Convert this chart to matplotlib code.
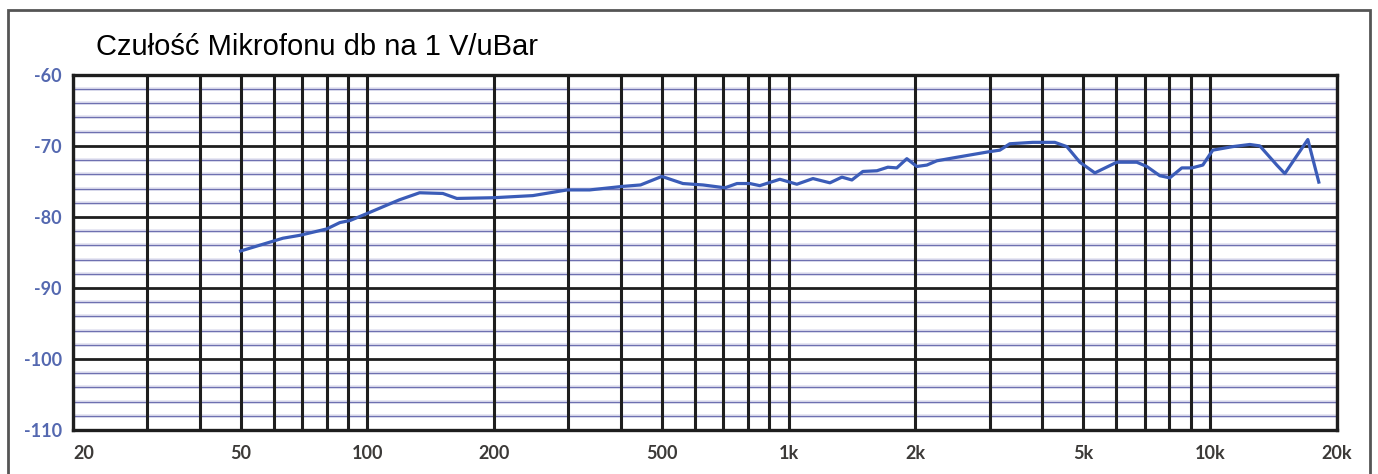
import matplotlib.pyplot as plt
from matplotlib.patches import Rectangle

# frequency response (Hz, dB re 1 V/uBar)
freq = [50, 63, 69, 80, 86, 91, 100, 119, 133, 151, 163, 199, 247, 298, 337,
        404, 445, 500, 561, 626, 706, 754, 809, 854, 953, 1046, 1142, 1253,
        1338, 1413, 1500, 1620, 1720, 1806, 1908, 2015, 2129, 2248, 2508,
        3004, 3172, 3350, 3800, 4284, 4576, 4913, 5333, 6012, 6706, 7085,
        7606, 8033, 8578, 9062, 9622, 10160, 11336, 12442, 13140, 14418,
        15064, 17083, 18140]
level = [-84.8, -83.0, -82.6, -81.7, -80.8, -80.5, -79.5, -77.6, -76.6, -76.7,
         -77.4, -77.3, -77.0, -76.2, -76.2, -75.7, -75.5, -74.3, -75.3, -75.5,
         -75.9, -75.3, -75.3, -75.6, -74.7, -75.4, -74.6, -75.2, -74.4, -74.8,
         -73.6, -73.5, -73.0, -73.1, -71.8, -72.9, -72.7, -72.1, -71.6,
         -70.8, -70.6, -69.7, -69.5, -69.5, -70.1, -72.3, -73.8, -72.3, -72.3,
         -72.9, -74.2, -74.5, -73.1, -73.1, -72.7, -70.6, -70.1, -69.8, -70.0,
         -72.7, -73.9, -69.1, -75.1]

x_ticks = [20, 50, 100, 200, 500, 1000, 2000, 5000, 10000, 20000]
x_labels = ['20', '50', '100', '200', '500', '1k', '2k', '5k', '10k', '20k']
y_ticks = [-110, -100, -90, -80, -70, -60]
v_lines = ([20, 30, 40, 50, 60, 70, 80, 90, 100] + list(range(200, 1001, 100))
           + list(range(2000, 10001, 1000)) + [20000])
minor_db = [v for v in range(-108, -60, 2) if v % 10 != 0]

fig = plt.figure(figsize=(13.78, 4.74), dpi=100)
ax = fig.add_axes([0.053, 0.093, 0.917, 0.749])
ax.set_xscale('log')
ax.set_xlim(20, 20000)
ax.set_ylim(-110, -60)

# thin bluish 2 dB lines
for v in minor_db:
    ax.axhline(v, color='#e2e2f1', lw=2.6, zorder=1)
    ax.axhline(v, color='#6e70b0', lw=0.9, zorder=1.1)
# heavy 10 dB lines
for v in y_ticks:
    ax.axhline(v, color='#1e1e1e', lw=2.0, zorder=2)
# heavy frequency lines
for f in v_lines:
    ax.axvline(f, color='#1e1e1e', lw=2.2, zorder=2)

ax.plot(freq, level, color='#3b5cb8', lw=2.3, zorder=5, solid_joinstyle='round')

for s in ax.spines.values():
    s.set_linewidth(2.4)
    s.set_color('#1e1e1e')

ax.set_xticks(x_ticks)
ax.set_xticklabels(x_labels)
ax.minorticks_off()
ax.set_yticks(y_ticks)
ax.set_yticklabels([str(v) for v in y_ticks])
ax.tick_params(length=0)
ax.tick_params(axis='x', pad=11)
ax.tick_params(axis='y', pad=8)
for t in ax.get_xticklabels():
    t.set_fontfamily('Lato')
    t.set_fontweight('bold')
    t.set_fontsize(13)
    t.set_color('#3c3a38')
ax.get_xticklabels()[0].set_horizontalalignment('left')
for t in ax.get_yticklabels():
    t.set_fontfamily('Lato')
    t.set_fontweight('bold')
    t.set_fontsize(13)
    t.set_color('#5468b0')

fig.text(0.070, 0.900, 'Czułość Mikrofonu db na 1 V/uBar', fontsize=21,
         family='Liberation Sans', color='black', va='center', ha='left')

# outer frame of the picture
fig.patches.append(Rectangle((0.006, -0.02), 0.988, 0.999, transform=fig.transFigure,
                             fill=False, ec='#555555', lw=2.0))

fig.savefig('out.png', dpi=100)
